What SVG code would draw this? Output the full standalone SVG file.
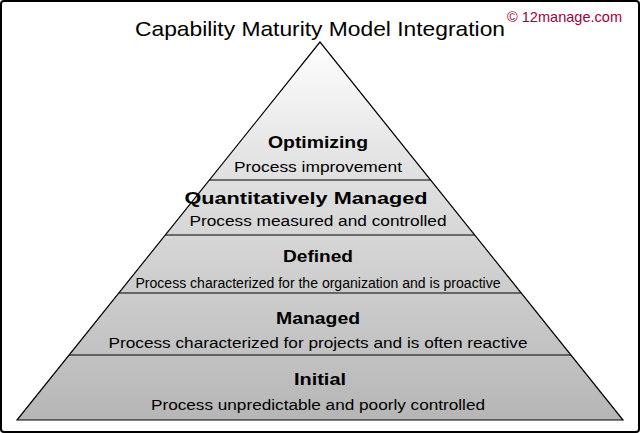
<svg xmlns="http://www.w3.org/2000/svg" width="640" height="433" viewBox="0 0 640 433">
<defs>
<linearGradient id="g" x1="0" y1="42" x2="0" y2="420" gradientUnits="userSpaceOnUse">
<stop offset="0" stop-color="#ffffff"/><stop offset="0.3" stop-color="#e4e4e4"/><stop offset="1" stop-color="#b6b6b6"/>
</linearGradient>
<style>
.t{font-family:"Liberation Sans",Arial,sans-serif;text-anchor:middle;fill:#000}
.h{font-size:16px;font-weight:bold}
.d{font-size:14px}
.ln{stroke:#000;stroke-width:1.2;fill:none}
</style>
</defs>
<rect x="1" y="1" width="638" height="431" rx="3" fill="#fff" stroke="#000" stroke-width="2"/>
<text class="t" x="320" y="36" font-size="21" textLength="370" lengthAdjust="spacingAndGlyphs">Capability Maturity Model Integration</text>
<text x="507" y="22" font-family="Liberation Sans,Arial,sans-serif" font-size="15" fill="#a0003a" textLength="115" lengthAdjust="spacingAndGlyphs">© 12manage.com</text>
<g id="pyramid"><polygon points="320,42 17,420 623,420" fill="url(#g)" stroke="#000" stroke-width="1.2"/></g>
<g id="connectors">
<line class="ln" x1="209" y1="180" x2="431" y2="180"/>
<line class="ln" x1="165" y1="235" x2="475" y2="235"/>
<line class="ln" x1="119" y1="293" x2="521" y2="293"/>
<line class="ln" x1="69" y1="355" x2="571" y2="355"/>
</g>
<g id="optimizing"><text class="t h" x="318" y="148" textLength="100" lengthAdjust="spacingAndGlyphs">Optimizing</text><text class="t d" x="318" y="172" textLength="168" lengthAdjust="spacingAndGlyphs">Process improvement</text></g>
<g id="quant"><text class="t h" x="306" y="204" textLength="243" lengthAdjust="spacingAndGlyphs">Quantitatively Managed</text><text class="t d" x="318" y="226" textLength="257" lengthAdjust="spacingAndGlyphs">Process measured and controlled</text></g>
<g id="defined"><text class="t h" x="318" y="262" textLength="70" lengthAdjust="spacingAndGlyphs">Defined</text><text class="t d" x="318" y="288" textLength="365" lengthAdjust="spacingAndGlyphs">Process characterized for the organization and is proactive</text></g>
<g id="managed"><text class="t h" x="318" y="324" textLength="84" lengthAdjust="spacingAndGlyphs">Managed</text><text class="t d" x="318" y="348" textLength="419" lengthAdjust="spacingAndGlyphs">Process characterized for projects and is often reactive</text></g>
<g id="initial"><text class="t h" x="320" y="385" textLength="52" lengthAdjust="spacingAndGlyphs">Initial</text><text class="t d" x="318" y="410" textLength="334" lengthAdjust="spacingAndGlyphs">Process unpredictable and poorly controlled</text></g>
</svg>
